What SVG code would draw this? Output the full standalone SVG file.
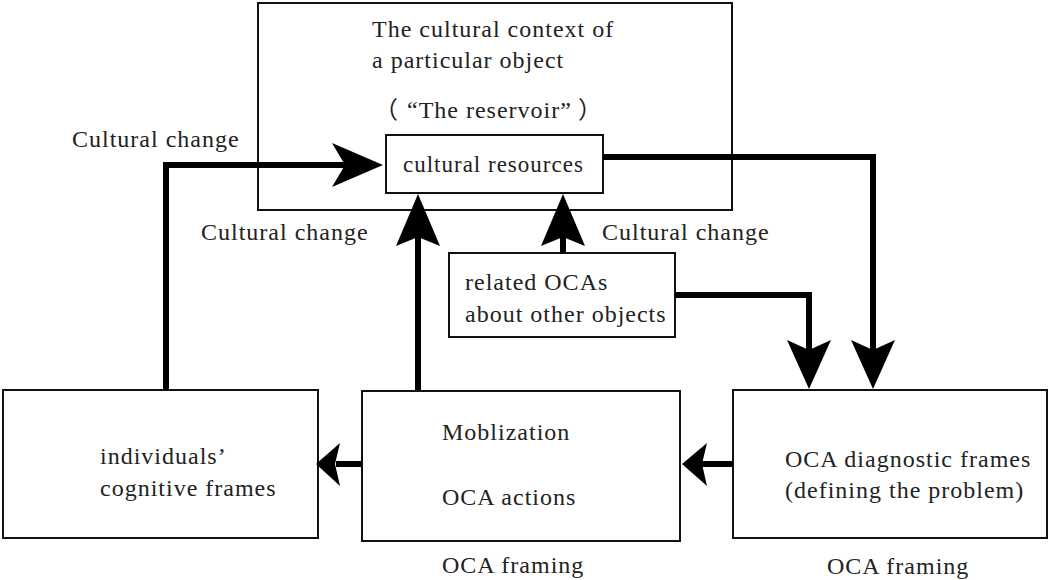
<svg xmlns="http://www.w3.org/2000/svg" width="1050" height="580" viewBox="0 0 1050 580">
<style>
.box{fill:#fff;stroke:#111;stroke-width:2}
.frame{fill:none;stroke:#111;stroke-width:2}
.wire{fill:none;stroke:#000;stroke-width:6;stroke-linejoin:miter}
.head{fill:#000;stroke:none}
text{font-family:"Liberation Serif","Noto Sans CJK SC",serif;font-size:24px;letter-spacing:1px;fill:#222}
</style>
<rect width="1050" height="580" fill="#fff"/>
<g id="context">
<rect class="frame" x="258" y="3" width="474" height="207"/>
<text x="372" y="37">The cultural context of</text>
<text x="372" y="68">a particular object</text>
<text x="374" y="118">（<tspan dx="8">“The reservoir”</tspan><tspan dx="6">）</tspan></text>
</g>
<g id="resources">
<rect class="box" x="386" y="135" width="217" height="58"/>
<text x="403" y="172" style="font-size:23px">cultural resources</text>
</g>
<g id="related">
<rect class="box" x="449" y="253" width="226" height="84"/>
<text x="465" y="290">related OCAs</text>
<text x="465" y="322">about other objects</text>
</g>
<g id="individuals">
<rect class="box" x="3" y="390" width="315" height="148"/>
<text x="100" y="464">individuals’</text>
<text x="100" y="496">cognitive frames</text>
</g>
<g id="mobilization">
<rect class="box" x="362" y="391" width="318" height="150"/>
<text x="442" y="440">Moblization</text>
<text x="442" y="505">OCA actions</text>
</g>
<g id="diagnostic">
<rect class="box" x="733" y="390" width="314" height="148"/>
<text x="785" y="467">OCA diagnostic frames</text>
<text x="785" y="498">(defining the problem)</text>
</g>
<g id="labels">
<text x="72" y="147">Cultural change</text>
<text x="201" y="240">Cultural change</text>
<text x="602" y="240">Cultural change</text>
<text x="442" y="573">OCA framing</text>
<text x="827" y="574">OCA framing</text>
</g>
<g id="connectors">
<path class="wire" d="M166,390 V165 H345"/>
<polygon class="head" points="383,165 332,143 345,165 332,187"/>
<path class="wire" d="M418,390 V236"/>
<polygon class="head" points="418,194 396,246 418,237 440,246"/>
<path class="wire" d="M563,253 V236"/>
<polygon class="head" points="563,194 541,246 563,237 585,246"/>
<path class="wire" d="M603,157 H873 V350"/>
<polygon class="head" points="873,389 851,340 873,350 895,340"/>
<path class="wire" d="M675,295 H809 V350"/>
<polygon class="head" points="809,389 787,340 809,350 831,340"/>
<path class="wire" d="M362,464 H336"/>
<polygon class="head" points="316,464 340,443 335,464 340,486"/>
<path class="wire" d="M733,464 H702"/>
<polygon class="head" points="682,464 707,443 702,464 707,486"/>
</g>
</svg>
